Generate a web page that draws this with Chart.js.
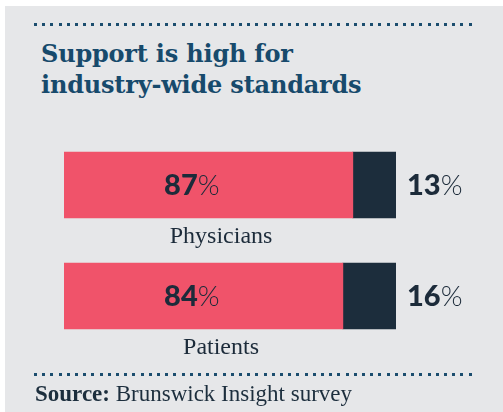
<!DOCTYPE html>
<html>
<head>
<meta charset="utf-8">
<script src="https://cdn.jsdelivr.net/npm/chart.js@4"></script>
<style>
  html, body { margin: 0; padding: 0; background: #ffffff; }
  body { width: 503px; height: 412px; position: relative; overflow: hidden; }
  .panel { position: absolute; left: 5px; top: 6px; right: 0; bottom: 0; background: #e6e7e9; }
  .dots {
    position: absolute; left: 34px; width: 442px; height: 3px;
    background: repeating-linear-gradient(to right, #1b4d6e 0 3px, transparent 3px 8.2px);
  }
  .title {
    position: absolute; left: 41px; top: 38px; margin: 0;
    font-family: "DejaVu Serif", serif; font-weight: bold; font-size: 24px;
    line-height: 31px; color: #174a6c; letter-spacing: -0.2px;
  }
  .source {
    position: absolute; left: 35px; top: 381px;
    font-family: "Liberation Serif", serif; font-size: 23px; color: #1c2e3d;
  }
  .source b { font-weight: bold; }
  #chartWrap { position: absolute; left: 0; top: 0; width: 503px; height: 412px; }
</style>
</head>
<body>
<div class="panel"></div>
<div class="dots" style="top: 23px;"></div>
<h1 class="title">Support is high for<br>industry-wide standards</h1>
<div id="chartWrap"><canvas id="barChart"></canvas></div>
<div class="dots" style="top: 373px;"></div>
<div class="source"><b>Source:</b> Brunswick Insight survey</div>

<script>
const categories = ["Physicians", "Patients"];
const yesValues = [87, 84];
const noValues = [13, 16];

document.addEventListener("DOMContentLoaded", () => {
    const ctx = document.getElementById("barChart").getContext("2d");

    const pctLabels = {
        id: "pctLabels",
        afterDatasetsDraw(chart) {
            const c = chart.ctx;
            const xs = chart.scales.x;
            const ys = chart.scales.y;
            c.save();
            c.textBaseline = "middle";
            c.fillStyle = "#1c2b3a";

            function drawPct(num, x, y, align) {
                c.font = "900 29px Lato";
                const w1 = c.measureText(String(num)).width;
                c.font = "300 28px Lato";
                const w2 = c.measureText("%").width;
                let start = align === "center" ? x - (w1 + w2) / 2 : x;
                c.textAlign = "left";
                c.font = "900 29px Lato";
                c.fillText(String(num), start, y);
                c.font = "300 28px Lato";
                c.fillText("%", start + w1, y);
            }

            categories.forEach((cat, i) => {
                const y = ys.getPixelForValue(i);
                drawPct(yesValues[i], xs.getPixelForValue(38.5), y + 1, "center");
                drawPct(noValues[i], xs.getPixelForValue(100) + 11, y + 1, "left");

                c.font = "24px 'Liberation Serif'";
                c.textAlign = "center";
                c.textBaseline = "alphabetic";
                c.fillText(cat, xs.getPixelForValue(47.3), y + 58);
                c.textBaseline = "middle";
            });
            c.restore();
        }
    };

    new Chart(ctx, {
        type: "bar",
        data: {
            labels: categories,
            datasets: [
                {
                    label: "Support",
                    data: yesValues,
                    backgroundColor: "#f0536a",
                    barThickness: 66,
                    borderWidth: 0
                },
                {
                    label: "Oppose",
                    data: noValues,
                    backgroundColor: "#1c2d3c",
                    barThickness: 66,
                    borderWidth: 0
                }
            ]
        },
        options: {
            indexAxis: "y",
            responsive: true,
            maintainAspectRatio: false,
            animation: false,
            layout: { padding: { left: 64, right: 107, top: 129.5, bottom: 60.5 } },
            plugins: {
                legend: { display: false },
                tooltip: { enabled: false }
            },
            scales: {
                x: { stacked: true, min: 0, max: 100, display: false },
                y: { stacked: true, display: false }
            }
        },
        plugins: [pctLabels]
    });
});
</script>
</body>
</html>
